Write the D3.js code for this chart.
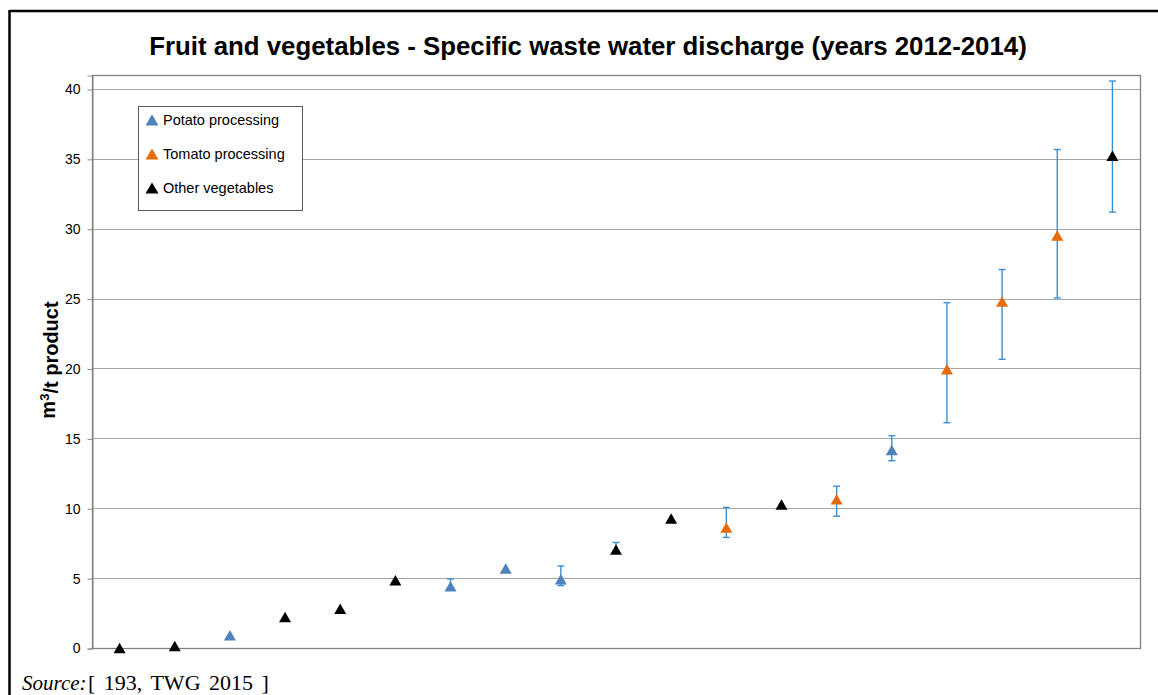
<!DOCTYPE html>
<html>
<head>
<meta charset="utf-8">
<script src="https://cdn.jsdelivr.net/npm/d3@7/dist/d3.min.js"></script>
<style>
  html, body { margin: 0; padding: 0; background: #fff; }
  svg { display: block; }
</style>
</head>
<body>
<svg id="chart" width="1158" height="695"></svg>
<script>
// Plants ranked by specific waste water discharge (m3/t product)
const plants = ["1","2","3","4","5","6","7","8","9","10","11","12","13","14","15","16","17","18","19"];
const groups = ["other","other","potato","other","other","other","potato","potato","potato",
                "other","other","tomato","other","tomato","potato","tomato","tomato","tomato","other"];
const values = [0.0, 0.14, 0.91, 2.22, 2.81, 4.84, 4.42, 5.69, 4.92, 7.05,
                9.27, 8.62, 10.27, 10.65, 14.16, 19.94, 24.79, 29.51, 35.22];
// Range over the years 2012-2014 (null where no range is shown)
const lows  = [null, null, null, null, null, null, 4.2, null, 4.47, 6.8,
               null, 7.91, null, 9.43, 13.4, 16.12, 20.66, 25.05, 31.19];
const highs = [null, null, null, null, null, null, 4.94, null, 5.87, 7.55,
               null, 10.06, null, 11.58, 15.19, 24.71, 27.08, 35.67, 40.57];
const yTicks = [0, 5, 10, 15, 20, 25, 30, 35, 40];
const legendKeys = ["potato", "tomato", "other"];
const legendLabels = ["Potato processing", "Tomato processing", "Other vegetables"];

const colors = { potato: "#4f81bd", tomato: "#e46c0a", other: "#000000" };

const svg = d3.select("#chart");
const plot = { left: 92, right: 1140, top: 75, bottom: 648 };

const x = d3.scaleBand().domain(plants).range([plot.left, plot.right]).padding(0);
const y = d3.scaleLinear().domain([0, 41]).range([plot.bottom, plot.top]);
const cx = p => x(p) + x.bandwidth() / 2;

// page frame lines
svg.append("line").attr("x1", 9.5).attr("x2", 1158).attr("y1", 11).attr("y2", 11)
  .attr("stroke", "#000").attr("stroke-width", 2.5);
svg.append("line").attr("x1", 9.5).attr("x2", 9.5).attr("y1", 10).attr("y2", 695)
  .attr("stroke", "#000").attr("stroke-width", 2.5);

// title
svg.append("text")
  .attr("x", 588).attr("y", 55)
  .attr("text-anchor", "middle")
  .style("font-family", "'Liberation Sans', Arial, sans-serif")
  .style("font-weight", "bold").style("font-size", "25.8px")
  .attr("fill", "#000")
  .text("Fruit and vegetables - Specific waste water discharge (years 2012-2014)");

// gridlines
svg.append("g")
  .selectAll("line").data(yTicks.filter(t => t > 0)).join("line")
  .attr("x1", plot.left).attr("x2", plot.right)
  .attr("y1", d => Math.round(y(d)) + 0.5).attr("y2", d => Math.round(y(d)) + 0.5)
  .attr("stroke", "#a6a6a6").attr("stroke-width", 1);

// plot area border
svg.append("rect")
  .attr("x", plot.left + 0.5).attr("y", plot.top + 0.5)
  .attr("width", plot.right - plot.left).attr("height", plot.bottom - plot.top)
  .attr("fill", "none").attr("stroke", "#7f7f7f").attr("stroke-width", 1.3);

// y axis
const yAxis = d3.axisLeft(y).tickValues(yTicks).tickSize(5).tickPadding(7);
const gy = svg.append("g").attr("transform", `translate(${plot.left + 0.5},0.5)`).call(yAxis);
gy.select(".domain").attr("stroke", "#868686");
gy.selectAll(".tick line").attr("stroke", "#868686");
gy.selectAll(".tick text")
  .style("font-family", "'Liberation Sans', Arial, sans-serif")
  .style("font-size", "14px").attr("fill", "#000");

// y axis title
const yTitle = svg.append("text")
  .attr("transform", "translate(55,360) rotate(-90)")
  .attr("text-anchor", "middle")
  .style("font-family", "'Liberation Sans', Arial, sans-serif")
  .style("font-weight", "bold").style("font-size", "20px")
  .attr("fill", "#000");
yTitle.append("tspan").text("m");
yTitle.append("tspan").attr("dy", "-0.45em").style("font-size", "13px").text("3");
yTitle.append("tspan").attr("dy", "0.45em").text("/t product");

// range bars
const idx = d3.range(plants.length).filter(i => lows[i] !== null);
const eb = svg.append("g").attr("stroke", "#3a8fd3").attr("stroke-width", 1.4);
eb.selectAll("line.v").data(idx).join("line").attr("class", "v")
  .attr("x1", i => cx(plants[i])).attr("x2", i => cx(plants[i]))
  .attr("y1", i => y(lows[i])).attr("y2", i => y(highs[i]));
eb.selectAll("line.lo").data(idx).join("line").attr("class", "lo")
  .attr("x1", i => cx(plants[i]) - 3.5).attr("x2", i => cx(plants[i]) + 3.5)
  .attr("y1", i => y(lows[i])).attr("y2", i => y(lows[i]));
eb.selectAll("line.hi").data(idx).join("line").attr("class", "hi")
  .attr("x1", i => cx(plants[i]) - 3.5).attr("x2", i => cx(plants[i]) + 3.5)
  .attr("y1", i => y(highs[i])).attr("y2", i => y(highs[i]));

// triangle markers
const tri = (w, h) => `M0,${-h / 2}L${w / 2},${h / 2}L${-w / 2},${h / 2}Z`;
svg.append("g").selectAll("path").data(d3.range(plants.length)).join("path")
  .attr("transform", i => `translate(${cx(plants[i])},${y(values[i])})`)
  .attr("d", tri(12, 10.5))
  .attr("fill", i => colors[groups[i]]);

// legend
const lg = svg.append("g");
lg.append("rect").attr("x", 138.5).attr("y", 106.5).attr("width", 164).attr("height", 104)
  .attr("fill", "#fff").attr("stroke", "#595959").attr("stroke-width", 1);
const items = lg.selectAll("g.item").data(legendKeys).join("g").attr("class", "item")
  .attr("transform", (d, i) => `translate(152,${120 + i * 34})`);
items.append("path").attr("d", tri(13, 11)).attr("fill", d => colors[d]);
items.append("text")
  .attr("x", 11).attr("y", 0).attr("dy", "0.36em")
  .style("font-family", "'Liberation Sans', Arial, sans-serif")
  .style("font-size", "14.5px").attr("fill", "#000")
  .text((d, i) => legendLabels[i]);

// source note
const src = svg.append("text").attr("x", 22).attr("y", 690)
  .style("font-family", "'Liberation Serif', 'Times New Roman', serif")
  .style("font-size", "21px").attr("fill", "#000");
src.append("tspan").style("font-style", "italic").text("Source:");
src.append("tspan").attr("x", 88).style("font-size", "22px").style("word-spacing", "3px").text("[ 193, TWG 2015 ]");
</script>
</body>
</html>
